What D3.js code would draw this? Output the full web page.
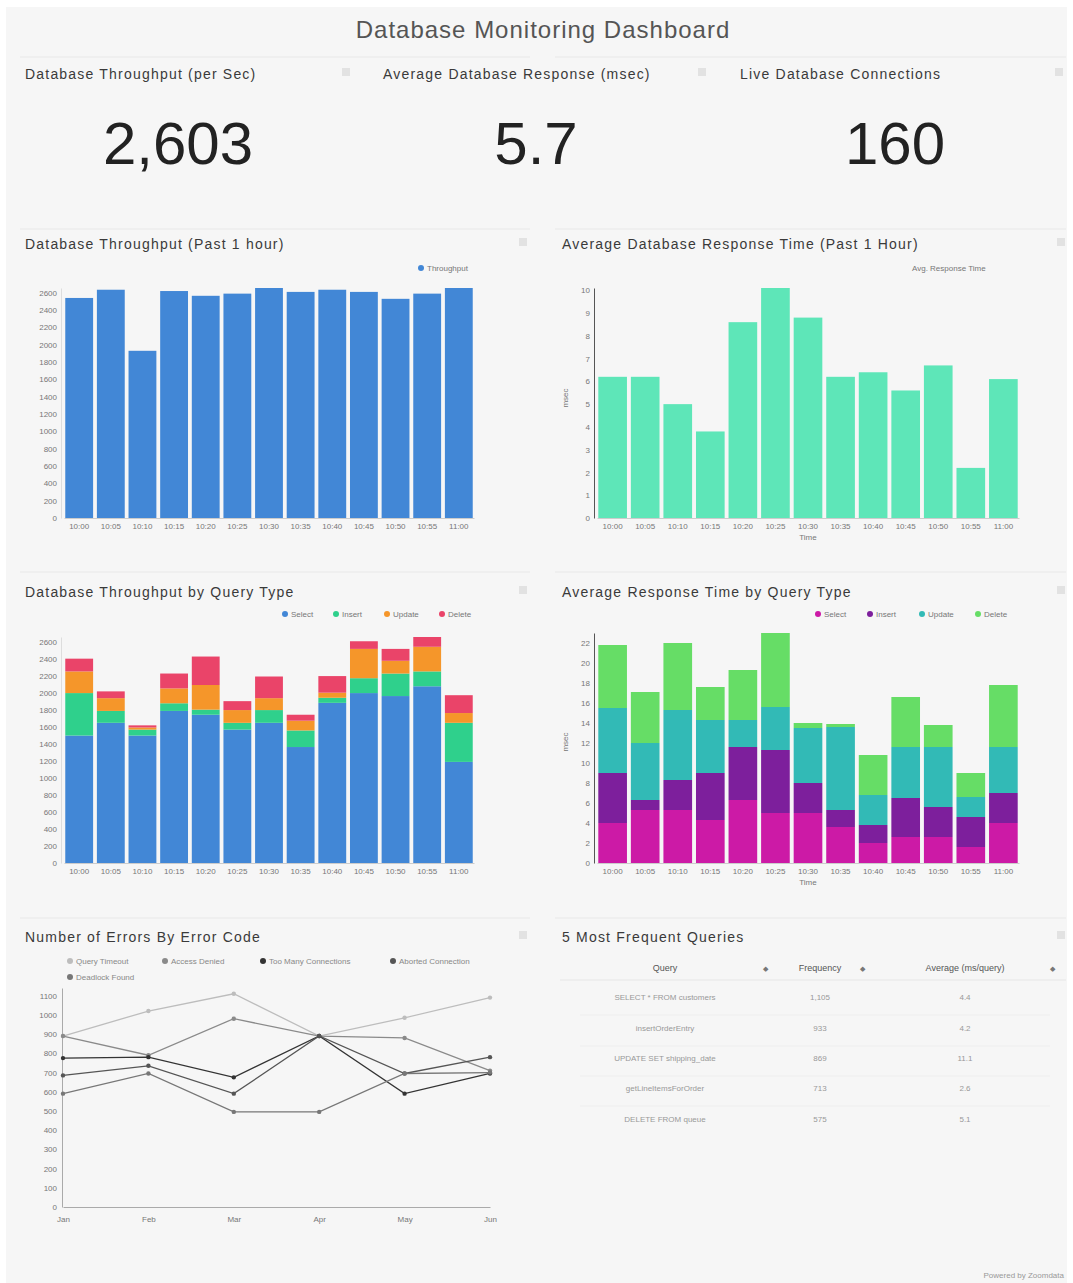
<!DOCTYPE html>
<html>
<head>
<meta charset="utf-8">
<script src="https://cdn.jsdelivr.net/npm/d3@7"></script>
<style>
body { margin: 0; background: #fff; font-family: "Liberation Sans", Arial, sans-serif; }
</style>
</head>
<body>
<div id="div1"></div>
<script>

// ---- data ----
var kpi_titles = ["Database Throughput (per Sec)", "Average Database Response (msec)", "Live Database Connections"];
var kpi_values = ["2,603", "5.7", "160"];

var time_labels = ["10:00", "10:05", "10:10", "10:15", "10:20", "10:25", "10:30", "10:35", "10:40", "10:45", "10:50", "10:55", "11:00"];
var throughput = [2540, 2635, 1930, 2620, 2565, 2590, 2655, 2610, 2635, 2610, 2530, 2590, 2655];
var response_time = [6.2, 6.2, 5.0, 3.8, 8.6, 10.1, 8.8, 6.2, 6.4, 5.6, 6.7, 2.2, 6.1];

var query_types = ["Select", "Insert", "Update", "Delete"];
var tp_select = [1500, 1650, 1500, 1790, 1745, 1570, 1650, 1365, 1885, 2000, 1965, 2080, 1190];
var tp_insert = [500, 140, 70, 90, 60, 80, 150, 195, 60, 175, 265, 175, 460];
var tp_update = [255, 150, 25, 175, 290, 150, 140, 115, 60, 345, 150, 290, 115];
var tp_delete = [150, 80, 25, 175, 335, 105, 255, 70, 195, 90, 140, 115, 210];

var rt_select = [4.0, 5.3, 5.3, 4.3, 6.3, 5.0, 5.0, 3.6, 2.0, 2.6, 2.6, 1.6, 4.0];
var rt_insert = [5.0, 1.0, 3.0, 4.7, 5.3, 6.3, 3.0, 1.7, 1.8, 3.9, 3.0, 3.0, 3.0];
var rt_update = [6.5, 5.7, 7.0, 5.3, 2.7, 4.3, 5.5, 8.3, 3.0, 5.1, 6.0, 2.0, 4.6];
var rt_delete = [6.3, 5.1, 6.7, 3.3, 5.0, 7.4, 0.5, 0.3, 4.0, 5.0, 2.2, 2.4, 6.2];

var err_months = ["Jan", "Feb", "Mar", "Apr", "May", "Jun"];
var err_codes = ["Query Timeout", "Access Denied", "Too Many Connections", "Aborted Connection", "Deadlock Found"];
var err_timeout = [890, 1020, 1110, 890, 985, 1090];
var err_denied = [890, 790, 980, 890, 880, 710];
var err_toomany = [775, 780, 675, 890, 590, 695];
var err_aborted = [685, 735, 590, 890, 695, 780];
var err_deadlock = [590, 695, 495, 495, 695, 700];

var top_queries = ["SELECT * FROM customers", "insertOrderEntry", "UPDATE SET shipping_date", "getLineItemsForOrder", "DELETE FROM queue"];
var top_frequency = ["1,105", "933", "869", "713", "575"];
var top_avg_ms = ["4.4", "4.2", "11.1", "2.6", "5.1"];

// ---- page ----
var W = 1073, H = 1283;
var svg = d3.select("#div1").append("svg")
    .attr("width", W)
    .attr("height", H)
    .style("display", "block");

svg.append("rect").attr("x", 6).attr("y", 7).attr("width", W - 12).attr("height", H - 7).attr("fill", "#f6f6f6");

svg.append("text")
    .attr("x", 543).attr("y", 38)
    .attr("text-anchor", "middle")
    .attr("font-size", 24)
    .attr("letter-spacing", 1)
    .attr("fill", "#555")
    .text("Database Monitoring Dashboard");

function panel_title(x, y, txt, iconX) {
  svg.append("text").attr("x", x).attr("y", y)
      .attr("font-size", 14).attr("fill", "#3a3a3a")
      .attr("letter-spacing", 1.2)
      .text(txt);
  svg.append("rect").attr("x", iconX).attr("y", y - 11).attr("width", 8).attr("height", 8)
      .attr("fill", "#e2e2e2");
}

// separator lines above each row of panels
[57, 229, 572, 918].forEach(function(yy) {
  svg.append("line").attr("x1", 20).attr("x2", 530).attr("y1", yy).attr("y2", yy).attr("stroke", "#e8e8e8");
  svg.append("line").attr("x1", 555).attr("x2", 1066).attr("y1", yy).attr("y2", yy).attr("stroke", "#e8e8e8");
});

// ---- KPI row ----
var kpi_x = [25, 383, 740];
var kpi_cx = [178, 536, 895];
var kpi_icon = [342, 698, 1055];
for (var k = 0; k < 3; k++) {
  panel_title(kpi_x[k], 79, kpi_titles[k], kpi_icon[k]);
  svg.append("text").attr("x", kpi_cx[k]).attr("y", 164)
      .attr("text-anchor", "middle")
      .attr("font-size", 60)
      .attr("fill", "#222")
      .text(kpi_values[k]);
}

function style_axis(g, lineColor) {
  g.selectAll("text").attr("font-size", 8).attr("fill", "#777").attr("font-family", "Liberation Sans, Arial, sans-serif");
  g.select(".domain").attr("stroke", lineColor);
  g.selectAll(".tick line").attr("stroke", lineColor);
}

// ---- simple bar chart ----
function bar_chart(opt) {
  var x = d3.scaleBand().domain(time_labels).range([opt.x0, opt.x1]).paddingInner(0.12).paddingOuter(0.04);
  var y = d3.scaleLinear().domain([0, d3.max(opt.values)]).range([opt.y0, opt.y1]);

  svg.append("g")
    .selectAll("rect")
    .data(opt.values)
    .join("rect")
      .attr("x", function(d, i) { return x(time_labels[i]); })
      .attr("y", function(d) { return y(d); })
      .attr("width", x.bandwidth())
      .attr("height", function(d) { return opt.y0 - y(d); })
      .attr("fill", opt.color);

  var ya = svg.append("g").attr("transform", "translate(" + (opt.x0 - 3) + ",0)")
      .call(d3.axisLeft(y).tickValues(opt.ticks).tickSize(0).tickPadding(4).tickFormat(opt.fmt));
  style_axis(ya, opt.axisColor);

  var xa = svg.append("g").attr("transform", "translate(0," + opt.y0 + ")")
      .call(d3.axisBottom(x).tickSize(0).tickPadding(5));
  style_axis(xa, "#ccc");
}

panel_title(25, 249, "Database Throughput (Past 1 hour)", 519);
bar_chart({x0: 64, x1: 474, y0: 518, y1: 288, values: throughput, color: "#4287d6",
           ticks: d3.range(0, 2601, 200), fmt: d3.format("d"), axisColor: "#ddd"});
svg.append("circle").attr("cx", 421).attr("cy", 268).attr("r", 3).attr("fill", "#4287d6");
svg.append("text").attr("x", 427).attr("y", 271).attr("font-size", 8).attr("fill", "#777").text("Throughput");

panel_title(562, 249, "Average Database Response Time (Past 1 Hour)", 1057);
bar_chart({x0: 597, x1: 1019, y0: 518, y1: 288, values: response_time, color: "#5ee6b8",
           ticks: d3.range(0, 11, 1), fmt: d3.format("d"), axisColor: "#555"});
svg.append("text").attr("x", 912).attr("y", 271).attr("font-size", 8).attr("fill", "#777").text("Avg. Response Time");
svg.append("text").attr("transform", "translate(568,398) rotate(-90)").attr("text-anchor", "middle")
    .attr("font-size", 8).attr("fill", "#777").text("msec");
svg.append("text").attr("x", 808).attr("y", 540).attr("text-anchor", "middle")
    .attr("font-size", 8).attr("fill", "#777").text("Time");

// ---- stacked bar charts ----
function stacked_chart(opt) {
  var rows = time_labels.map(function(t, i) {
    var r = {time: t};
    for (var s = 0; s < query_types.length; s++) r[query_types[s]] = opt.series[s][i];
    return r;
  });
  var stackedData = d3.stack().keys(query_types)(rows);
  var top = d3.max(stackedData[stackedData.length - 1], function(d) { return d[1]; });

  var x = d3.scaleBand().domain(time_labels).range([opt.x0, opt.x1]).paddingInner(0.12).paddingOuter(0.04);
  var y = d3.scaleLinear().domain([0, top]).range([opt.y0, opt.y1]);
  var color = d3.scaleOrdinal().domain(query_types).range(opt.colors);

  svg.append("g")
    .selectAll("g")
    .data(stackedData)
    .join("g")
      .attr("fill", function(d) { return color(d.key); })
      .selectAll("rect")
      .data(function(d) { return d; })
      .join("rect")
        .attr("x", function(d) { return x(d.data.time); })
        .attr("y", function(d) { return y(d[1]); })
        .attr("height", function(d) { return y(d[0]) - y(d[1]); })
        .attr("width", x.bandwidth());

  var ya = svg.append("g").attr("transform", "translate(" + (opt.x0 - 3) + ",0)")
      .call(d3.axisLeft(y).tickValues(opt.ticks).tickSize(0).tickPadding(4).tickFormat(d3.format("d")));
  style_axis(ya, opt.axisColor);
  var xa = svg.append("g").attr("transform", "translate(0," + opt.y0 + ")")
      .call(d3.axisBottom(x).tickSize(0).tickPadding(5));
  style_axis(xa, "#ccc");

  // legend
  for (var s = 0; s < query_types.length; s++) {
    svg.append("circle").attr("cx", opt.legendX[s]).attr("cy", 614).attr("r", 3).attr("fill", opt.colors[s]);
    svg.append("text").attr("x", opt.legendX[s] + 6).attr("y", 617).attr("font-size", 8).attr("fill", "#777").text(query_types[s]);
  }
}

panel_title(25, 597, "Database Throughput by Query Type", 519);
stacked_chart({x0: 64, x1: 474, y0: 863, y1: 637, series: [tp_select, tp_insert, tp_update, tp_delete],
               colors: ["#4287d6", "#2fd08c", "#f5962a", "#ea4469"], ticks: d3.range(0, 2601, 200),
               axisColor: "#ddd", legendX: [285, 336, 387, 442]});

panel_title(562, 597, "Average Response Time by Query Type", 1057);
stacked_chart({x0: 597, x1: 1019, y0: 863, y1: 633, series: [rt_select, rt_insert, rt_update, rt_delete],
               colors: ["#cc1aa6", "#7d1f9c", "#32bab6", "#66dd66"], ticks: d3.range(0, 23, 2),
               axisColor: "#555", legendX: [818, 870, 922, 978]});
svg.append("text").attr("transform", "translate(568,742) rotate(-90)").attr("text-anchor", "middle")
    .attr("font-size", 8).attr("fill", "#777").text("msec");
svg.append("text").attr("x", 808).attr("y", 885).attr("text-anchor", "middle")
    .attr("font-size", 8).attr("fill", "#777").text("Time");

// ---- errors line chart ----
panel_title(25, 942, "Number of Errors By Error Code", 519);
var err_series = [err_timeout, err_denied, err_toomany, err_aborted, err_deadlock];
var err_colors = ["#bdbdbd", "#8a8a8a", "#333", "#555", "#777"];

var ex = d3.scalePoint().domain(err_months).range([63, 490]);
var ey = d3.scaleLinear().domain([0, 1140]).range([1207, 988]);

var eya = svg.append("g").attr("transform", "translate(62,0)")
    .call(d3.axisLeft(ey).tickValues(d3.range(0, 1101, 100)).tickSize(0).tickPadding(5).tickFormat(d3.format("d")));
style_axis(eya, "#aaa");
var exa = svg.append("g").attr("transform", "translate(0,1207)")
    .call(d3.axisBottom(ex).tickSize(0).tickPadding(9));
style_axis(exa, "#aaa");

var line = d3.line().x(function(d, i) { return ex(err_months[i]); }).y(function(d) { return ey(d); });
err_series.forEach(function(s, k) {
  svg.append("path").datum(s).attr("d", line).attr("fill", "none")
      .attr("stroke", err_colors[k]).attr("stroke-width", 1.3);
  svg.append("g").selectAll("circle").data(s).join("circle")
      .attr("cx", function(d, i) { return ex(err_months[i]); })
      .attr("cy", function(d) { return ey(d); })
      .attr("r", 2.2)
      .attr("fill", err_colors[k]);
});

var leg_pos = [[70, 961], [165, 961], [263, 961], [393, 961], [70, 977]];
err_codes.forEach(function(c, k) {
  svg.append("circle").attr("cx", leg_pos[k][0]).attr("cy", leg_pos[k][1]).attr("r", 3).attr("fill", err_colors[k]);
  svg.append("text").attr("x", leg_pos[k][0] + 6).attr("y", leg_pos[k][1] + 3)
      .attr("font-size", 8).attr("fill", "#888").text(c);
});

// ---- table ----
panel_title(562, 942, "5 Most Frequent Queries", 1057);
var col_x = [665, 820, 965];
var headers = ["Query", "Frequency", "Average (ms/query)"];
headers.forEach(function(h, i) {
  svg.append("text").attr("x", col_x[i]).attr("y", 971).attr("text-anchor", "middle")
      .attr("font-size", 9).attr("fill", "#555").text(h);
});
[765, 862, 1052].forEach(function(ix) {
  svg.append("text").attr("x", ix).attr("y", 971).attr("text-anchor", "middle")
      .attr("font-size", 7).attr("fill", "#777").text("\u25c6");
});
svg.append("line").attr("x1", 560).attr("x2", 1066).attr("y1", 980).attr("y2", 980).attr("stroke", "#e6e6e6");
var row_y = [1000, 1031, 1061, 1091, 1122];
top_queries.forEach(function(q, i) {
  svg.append("text").attr("x", col_x[0]).attr("y", row_y[i]).attr("text-anchor", "middle")
      .attr("font-size", 8).attr("fill", "#999").text(q);
  svg.append("text").attr("x", col_x[1]).attr("y", row_y[i]).attr("text-anchor", "middle")
      .attr("font-size", 8).attr("fill", "#999").text(top_frequency[i]);
  svg.append("text").attr("x", col_x[2]).attr("y", row_y[i]).attr("text-anchor", "middle")
      .attr("font-size", 8).attr("fill", "#999").text(top_avg_ms[i]);
  if (i < top_queries.length - 1)
    svg.append("line").attr("x1", 580).attr("x2", 1050).attr("y1", row_y[i] + 15).attr("y2", row_y[i] + 15).attr("stroke", "#eeeeee");
});

svg.append("text").attr("x", 1064).attr("y", 1278).attr("text-anchor", "end")
    .attr("font-size", 8).attr("fill", "#999").text("Powered by Zoomdata");

</script>
</body>
</html>
